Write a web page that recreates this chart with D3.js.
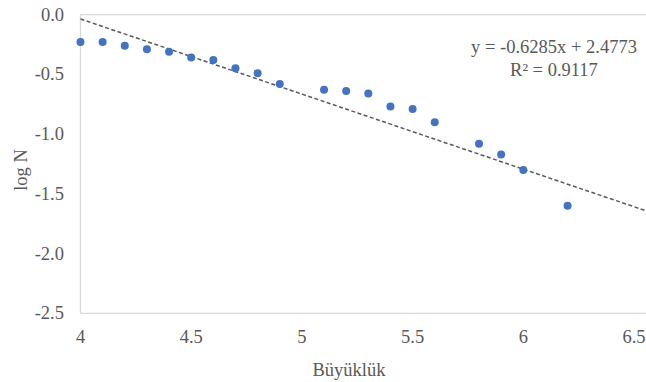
<!DOCTYPE html>
<html>
<head>
<meta charset="utf-8">
<script src="https://cdn.jsdelivr.net/npm/d3@7"></script>
<style>
  html, body { margin: 0; padding: 0; background: #fff; }
  svg { display: block; }
  text { font-family: "Liberation Serif", "DejaVu Serif", serif; fill: #595959; }
</style>
</head>
<body>
<svg id="chart" width="646" height="382"></svg>
<script>
// Data
const magnitudes = [4.0, 4.1, 4.2, 4.3, 4.4, 4.5, 4.6, 4.7, 4.8, 4.9, 5.1, 5.2, 5.3, 5.4, 5.5, 5.6, 5.8, 5.9, 6.0, 6.2];
const logN = [-0.23, -0.23, -0.26, -0.29, -0.31, -0.36, -0.38, -0.45, -0.49, -0.58, -0.63, -0.64, -0.66, -0.77, -0.79, -0.90, -1.08, -1.17, -1.30, -1.60];
const xTicks = [4, 4.5, 5, 5.5, 6, 6.5];
const xTickLabels = ["4", "4.5", "5", "5.5", "6", "6.5"];
const yTicks = [0, -0.5, -1, -1.5, -2, -2.5];
const yTickLabels = ["0.0", "-0.5", "-1.0", "-1.5", "-2.0", "-2.5"];
const trendSlope = -0.6285;
const trendIntercept = 2.4773;
const equationLines = ["y = -0.6285x + 2.4773", "R² = 0.9117"];
const xTitle = "Büyüklük";
const yTitle = "log N";

(function () {
const svg = d3.select("#chart");
const W = 646, H = 382;
const pLeft = 80.5, pRight = 634, pTop = 14.6, pBottom = 313.3;
const fs = 18.5;

const x = d3.scaleLinear().domain([4, 6.5]).range([pLeft, pRight]);
const y = d3.scaleLinear().domain([-2.5, 0]).range([pBottom, pTop]);

// plot frame lines
svg.append("line").attr("x1", pLeft).attr("x2", W).attr("y1", y(0)).attr("y2", y(0))
  .attr("stroke", "#d9d9d9").attr("stroke-width", 1.3);
svg.append("line").attr("x1", pLeft).attr("x2", W).attr("y1", y(-2.5)).attr("y2", y(-2.5))
  .attr("stroke", "#d9d9d9").attr("stroke-width", 1.3);
svg.append("line").attr("x1", pLeft).attr("x2", pLeft).attr("y1", y(0)).attr("y2", y(-2.5))
  .attr("stroke", "#d9d9d9").attr("stroke-width", 1.3);

// y tick labels
svg.append("g").selectAll("text").data(yTicks).join("text")
  .attr("x", 64).attr("y", d => y(d))
  .attr("text-anchor", "end").attr("dominant-baseline", "central")
  .attr("font-size", fs)
  .text((d, i) => yTickLabels[i]);

// x tick labels
svg.append("g").selectAll("text").data(xTicks).join("text")
  .attr("x", d => x(d)).attr("y", 337)
  .attr("text-anchor", "middle").attr("dominant-baseline", "central")
  .attr("font-size", fs)
  .text((d, i) => xTickLabels[i]);

// axis titles
svg.append("text").attr("x", 349).attr("y", 370)
  .attr("text-anchor", "middle").attr("dominant-baseline", "central")
  .attr("font-size", fs).text(xTitle);
svg.append("text")
  .attr("transform", "translate(21,170) rotate(-90)")
  .attr("text-anchor", "middle").attr("dominant-baseline", "central")
  .attr("font-size", fs).text(yTitle);

// trendline
const xEnd = x.invert(W);
svg.append("line")
  .attr("x1", x(4)).attr("y1", y(trendSlope * 4 + trendIntercept))
  .attr("x2", x(xEnd)).attr("y2", y(trendSlope * xEnd + trendIntercept))
  .attr("stroke", "#595959").attr("stroke-width", 1.5)
  .attr("stroke-dasharray", "4,2.5");

// points
svg.append("g").selectAll("circle").data(magnitudes).join("circle")
  .attr("cx", d => x(d)).attr("cy", (d, i) => y(logN[i]))
  .attr("r", 4).attr("fill", "#4472C4");

// equation label
svg.append("g").selectAll("text").data(equationLines).join("text")
  .attr("x", 554).attr("y", (d, i) => 47 + i * 23)
  .attr("text-anchor", "middle").attr("dominant-baseline", "central")
  .attr("font-size", fs)
  .text(d => d);
})();
</script>
</body>
</html>
